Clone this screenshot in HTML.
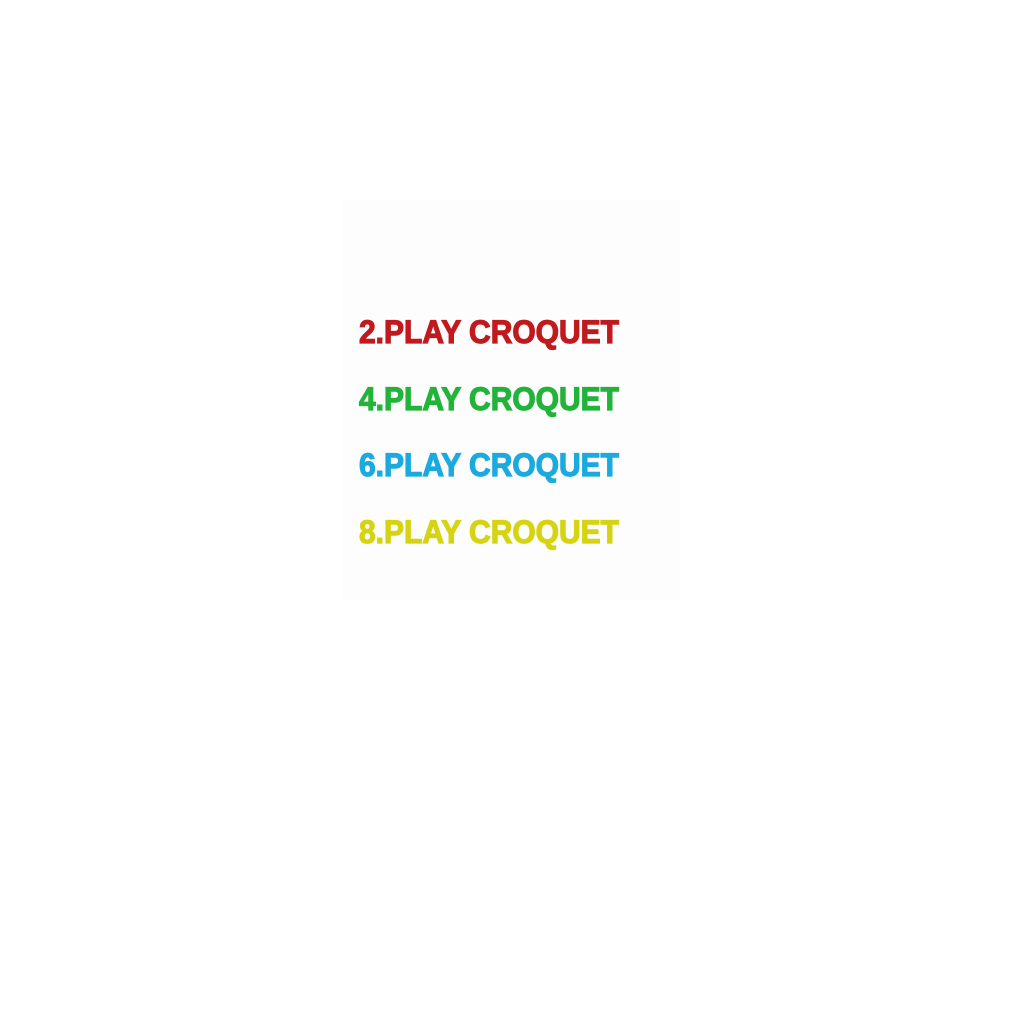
<!DOCTYPE html>
<html><head><meta charset="utf-8"><style>
html,body{margin:0;padding:0;background:#fff;width:1024px;height:1024px;overflow:hidden}
</style></head><body>
<svg width="1024" height="1024" viewBox="0 0 1024 1024" xmlns="http://www.w3.org/2000/svg">
<rect width="1024" height="1024" fill="#ffffff"/>
<rect x="342" y="200" width="338" height="400" fill="#fdfdfd"/>
<g font-family="Liberation Sans, sans-serif" font-weight="bold" font-size="32" stroke-width="1.2">
<text x="359" y="343" textLength="260" lengthAdjust="spacingAndGlyphs" fill="#c01a1e" stroke="#c01a1e">2.PLAY CROQUET</text>
<text x="359" y="410" textLength="260" lengthAdjust="spacingAndGlyphs" fill="#22b33a" stroke="#22b33a">4.PLAY CROQUET</text>
<text x="359" y="476" textLength="260" lengthAdjust="spacingAndGlyphs" fill="#1aaae0" stroke="#1aaae0">6.PLAY CROQUET</text>
<text x="359" y="543" textLength="260" lengthAdjust="spacingAndGlyphs" fill="#d6d312" stroke="#d6d312">8.PLAY CROQUET</text>
</g>
</svg>
</body></html>
